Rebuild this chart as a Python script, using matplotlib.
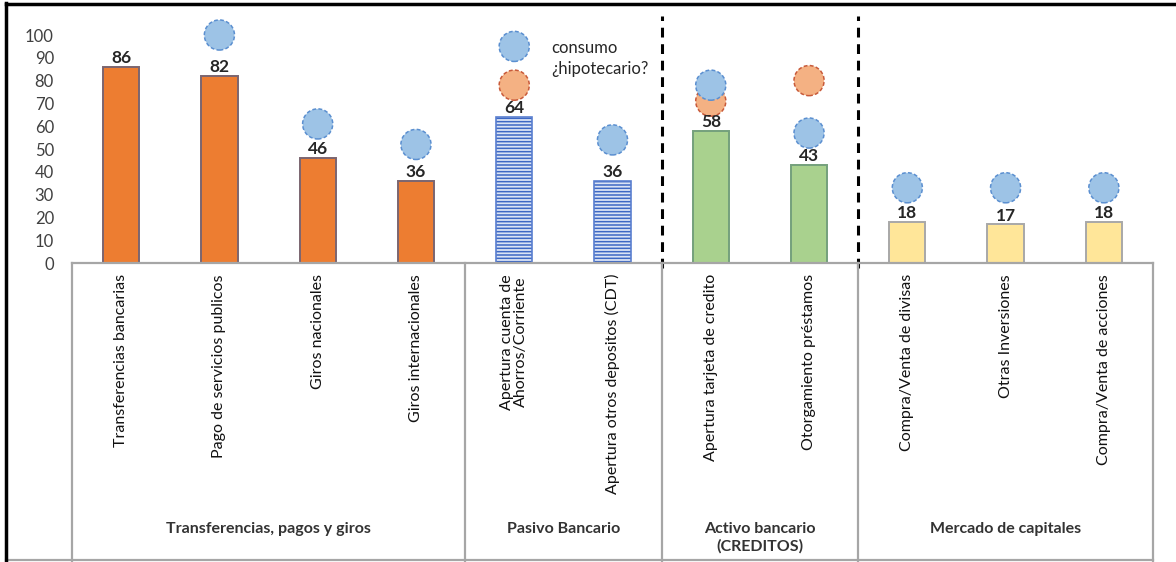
import numpy as np
import matplotlib
matplotlib.use("Agg")
from matplotlib import pyplot as plt
from matplotlib.lines import Line2D

plt.rcParams['font.family'] = ['Lato', 'DejaVu Sans']
plt.rcParams['hatch.linewidth'] = 1.1

# products and the share of respondents using each one
categories = ["Transferencias bancarias", "Pago de servicios publicos", "Giros nacionales",
              "Giros internacionales", "Apertura cuenta de\nAhorros/Corriente",
              "Apertura otros depositos (CDT)", "Apertura tarjeta de credito",
              "Otorgamiento préstamos", "Compra/Venta de divisas", "Otras Inversiones",
              "Compra/Venta de acciones"]
values = [86, 82, 46, 36, 64, 36, 58, 43, 18, 17, 18]

# bubbles drawn above the bars (nan = no bubble)
blue_marks = [np.nan, 100, 61, 52, 95, 54, 78, 57, 33, 33, 33]
orange_marks = [np.nan, np.nan, np.nan, np.nan, 78, np.nan, 71, 80, np.nan, np.nan, np.nan]

group_names = ["Transferencias, pagos y giros", "Pasivo Bancario",
               "Activo bancario\n(CREDITOS)", "Mercado de capitales"]
group_sizes = [4, 2, 2, 3]
group_styles = ["orange", "blue", "green", "yellow"]

W, H = 1176, 562
fig = plt.figure(figsize=(W / 100, H / 100), dpi=100)

x0, x1 = 72, 1153          # plot area, pixels
y_zero, y_top = 263, 10
ax = fig.add_axes([x0 / W, (H - y_zero) / H, (x1 - x0) / W, (y_zero - y_top) / H])
ax.set_xlim(-0.5, len(categories) - 0.5)
ax.set_ylim(0, (y_zero - y_top) / 2.28)

x = np.arange(len(categories))
bw = 0.37
start = 0
for size, style in zip(group_sizes, group_styles):
    idx = x[start:start + size]
    vals = values[start:start + size]
    if style == "orange":
        ax.bar(idx, vals, bw, color="#ed7d31", edgecolor="#7b6570", linewidth=1.4, zorder=2)
    elif style == "blue":
        ax.bar(idx, vals, bw, color="#dbe4f5", edgecolor="#3d68c4", hatch="-----",
               linewidth=0, zorder=2)
        ax.bar(idx, vals, bw, fill=False, edgecolor="#5a7fcf", linewidth=1.2, zorder=3)
    elif style == "green":
        ax.bar(idx, vals, bw, color="#a9d18e", edgecolor="#74a07c", linewidth=1.4, zorder=2)
    else:
        ax.bar(idx, vals, bw, color="#ffe699", edgecolor="#a8a8a8", linewidth=1.4, zorder=2)
    start += size

for xi, v in zip(x, values):
    ax.text(xi, v + 0.3, str(v), ha="center", va="bottom", fontsize=12.5,
            fontweight="bold", color="#262626", zorder=5)

# dashed bubbles
ax.scatter(x, orange_marks, s=470, color="#f4b183", edgecolors="#c85a3a",
           linewidths=1.1, linestyles=(0, (2.5, 1.5)), zorder=4)
ax.scatter(x, blue_marks, s=470, color="#9dc3e6", edgecolors="#5b8fd0",
           linewidths=1.1, linestyles=(0, (2.5, 1.5)), zorder=4)

ax.text(4.38, 94.5, "consumo", ha="left", va="center", fontsize=12, color="#262626")
ax.text(4.38, 85.3, "¿hipotecario?", ha="left", va="center", fontsize=12, color="#262626")

# dashed separators between the product families
for xs in [5.5, 7.5]:
    ax.plot([xs, xs], [-2, 108.5], color="black", linewidth=2.2,
            linestyle=(0, (3.2, 2.2)), clip_on=False, zorder=6)

ax.set_yticks(range(0, 101, 10))
ax.tick_params(axis="y", length=0, pad=13, labelsize=12, labelcolor="#404040")
ax.set_xticks([])
for sp in ax.spines.values():
    sp.set_visible(False)

# category area under the bars
ch = H - y_zero
cax = fig.add_axes([x0 / W, 0, (x1 - x0) / W, ch / H])
cax.set_xlim(ax.get_xlim())
cax.set_ylim(ch, 0)
cax.axis("off")
grey = "#a6a6a6"
cax.plot([-0.5, len(categories) - 0.5], [0, 0], color=grey, linewidth=1.6, clip_on=False)
bounds = np.concatenate([[0], np.cumsum(group_sizes)]) - 0.5
for b in bounds:
    cax.plot([b, b], [0, ch], color=grey, linewidth=1.6, clip_on=False)

for xi, name in zip(x, categories):
    cax.text(xi, 11, name, rotation=90, ha="center", va="top", fontsize=11.5,
             color="#111111", multialignment="center", linespacing=1.0)

for b0, b1, name in zip(bounds[:-1], bounds[1:], group_names):
    cax.text((b0 + b1) / 2, 259, name, ha="center", va="top", fontsize=11.5,
             fontweight="bold", color="#333333", linespacing=1.3)

# frame lines
fig.add_artist(Line2D([6 / W, x1 / W], [1 - 560 / H, 1 - 560 / H], color=grey, linewidth=1.6))
fig.add_artist(Line2D([6 / W, 6 / W], [0, 1 - 3 / H], color="black", linewidth=2.5))
fig.add_artist(Line2D([6 / W, 1], [1 - 4 / H, 1 - 4 / H], color="black", linewidth=2.5))

fig.savefig("out.png", dpi=100, facecolor="white")
